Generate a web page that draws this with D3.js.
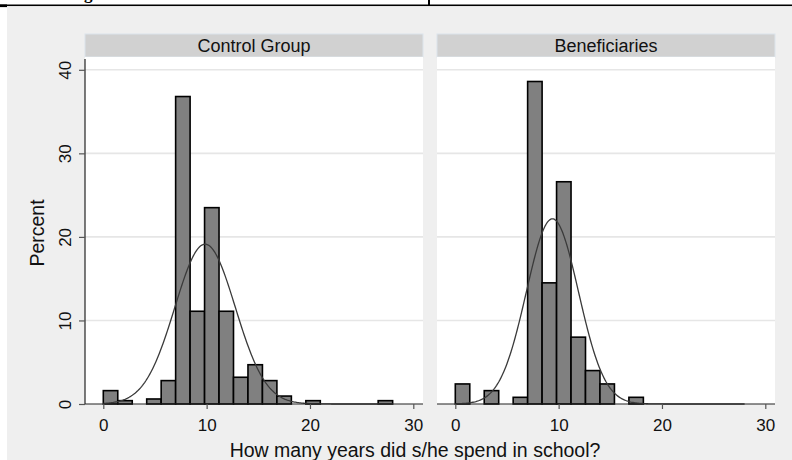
<!DOCTYPE html>
<html>
<head>
<meta charset="utf-8">
<script src="https://cdn.jsdelivr.net/npm/d3@7"></script>
<style>
  html, body { margin: 0; padding: 0; background: #fff; }
  svg { display: block; }
  text { font-family: "Liberation Sans", Arial, sans-serif; fill: #111; }
</style>
</head>
<body>
<svg id="chart" width="792" height="460"></svg>
<script>
// Histogram of years of schooling, by group (percent per 1.4-year bin, bins start at 0)
const groups = ["Control Group", "Beneficiaries"];
const binStart = 0;
const binWidth = 1.4;
const controlPct     = [1.6, 0.4, 0, 0.6, 2.8, 36.8, 11.1, 23.5, 11.1, 3.2, 4.7, 2.8, 0.95, 0, 0.4, 0, 0, 0, 0, 0.4];
const beneficiaryPct = [2.4, 0, 1.6, 0, 0.8, 38.6, 14.5, 26.6, 8.0, 4.0, 2.4, 0, 0.8, 0, 0, 0, 0, 0, 0, 0];
// Normal overlay parameters (mean, sd of years in school) per group
const normalMean = [9.85, 9.4];
const normalSd   = [2.92, 2.52];
const curveRange = [0, 28];
const xTicks = [0, 10, 20, 30];
const yTicks = [0, 10, 20, 30, 40];
const xTitle = "How many years did s/he spend in school?";
const yTitle = "Percent";

const series = [controlPct, beneficiaryPct];

const svg = d3.select("#chart");

// page furniture: table rule above the figure and the grey graph background
svg.append("rect").attr("x", 7).attr("y", 7).attr("width", 785).attr("height", 453).attr("fill", "#efefef");
svg.append("rect").attr("x", 0).attr("y", 4.5).attr("width", 792).attr("height", 1.6).attr("fill", "#000");
svg.append("rect").attr("x", 0).attr("y", 4.5).attr("width", 7).attr("height", 2.6).attr("fill", "#000");
svg.append("rect").attr("x", 428).attr("y", 0).attr("width", 2).attr("height", 5).attr("fill", "#000");
svg.append("text").attr("x", 84).attr("y", -0.8).attr("font-size", 17).attr("font-weight", "bold")
  .style("font-family", "'Liberation Serif', 'Times New Roman', serif").style("fill", "#000").text("g");

const panelLefts = [85, 437];
const panelW = 338;
const plotTop = 57, plotBottom = 404;

const y = d3.scaleLinear().domain([0, 40]).range([plotBottom, 69.8]);

groups.forEach((name, i) => {
  const left = panelLefts[i];
  const x = d3.scaleLinear().domain([0, 30]).range([left + 18.3, left + 328.3]);
  const g = svg.append("g");

  // strip header
  g.append("rect").attr("x", left).attr("y", 34).attr("width", panelW).attr("height", 23)
    .attr("fill", "#d1d1d1").attr("stroke", "#dce4eb").attr("stroke-width", 1);
  g.append("text").attr("x", left + panelW / 2).attr("y", 52).attr("text-anchor", "middle")
    .attr("font-size", 18).text(name);

  // plot region
  g.append("rect").attr("x", left).attr("y", plotTop).attr("width", panelW).attr("height", plotBottom - plotTop)
    .attr("fill", "#fff");

  // horizontal grid
  g.selectAll("line.grid").data(yTicks.filter(t => t > 0)).join("line")
    .attr("class", "grid")
    .attr("x1", left).attr("x2", left + panelW)
    .attr("y1", d => y(d)).attr("y2", d => y(d))
    .attr("stroke", "#e6e6e6").attr("stroke-width", 1.6);

  // bars
  const bins = series[i].map((v, k) => ({ x0: binStart + k * binWidth, v }));
  g.selectAll("rect.bar").data(bins).join("rect")
    .attr("class", "bar")
    .attr("x", d => x(d.x0))
    .attr("width", d => x(d.x0 + binWidth) - x(d.x0))
    .attr("y", d => y(d.v))
    .attr("height", d => y(0) - y(d.v))
    .attr("fill", "#808080")
    .attr("stroke", "#000")
    .attr("stroke-width", 1.6);

  // normal density overlay, scaled to percent per bin
  const m = normalMean[i], s = normalSd[i];
  const pts = d3.range(curveRange[0], curveRange[1] + 0.001, 0.1).map(t => [
    t, 100 * binWidth * Math.exp(-0.5 * ((t - m) / s) ** 2) / (s * Math.sqrt(2 * Math.PI))
  ]);
  g.append("path").datum(pts)
    .attr("d", d3.line().x(d => x(d[0])).y(d => y(d[1])).curve(d3.curveLinear))
    .attr("fill", "none").attr("stroke", "#3a3a3a").attr("stroke-width", 1.3);

  // x axis
  g.append("line").attr("x1", left).attr("x2", left + panelW).attr("y1", plotBottom).attr("y2", plotBottom)
    .attr("stroke", "#222").attr("stroke-width", 1.2);
  const xa = g.append("g").attr("transform", `translate(0,${plotBottom})`)
    .call(d3.axisBottom(x).tickValues(xTicks).tickSize(5).tickPadding(9.5).tickFormat(d3.format("d")));
  xa.select(".domain").remove();
  xa.selectAll("line").attr("stroke", "#555").attr("stroke-width", 1.2);
  xa.selectAll("text").attr("font-size", 17).style("fill", "#111")
    .style("font-family", "'Liberation Sans', Arial, sans-serif");

  // y axis on the first panel only
  if (i === 0) {
    g.append("line").attr("x1", left).attr("x2", left).attr("y1", 59).attr("y2", plotBottom)
      .attr("stroke", "#222").attr("stroke-width", 1.2);
    const ya = g.append("g").attr("transform", `translate(${left},0)`)
      .call(d3.axisLeft(y).tickValues(yTicks).tickSize(6).tickFormat(d3.format("d")));
    ya.select(".domain").remove();
    ya.selectAll("line").attr("stroke", "#555").attr("stroke-width", 1.2);
    ya.selectAll("text")
      .attr("x", 0).attr("y", -14.3).attr("dy", 0)
      .attr("transform", "rotate(-90)")
      .attr("text-anchor", "middle")
      .attr("font-size", 17).style("fill", "#111")
      .style("font-family", "'Liberation Sans', Arial, sans-serif");
  }
});

// axis titles
svg.append("text").attr("x", 415).attr("y", 457).attr("text-anchor", "middle")
  .attr("font-size", 19.5).text(xTitle);
svg.append("text").attr("transform", "translate(44,233) rotate(-90)").attr("text-anchor", "middle")
  .attr("font-size", 19.5).text(yTitle);
</script>
</body>
</html>
